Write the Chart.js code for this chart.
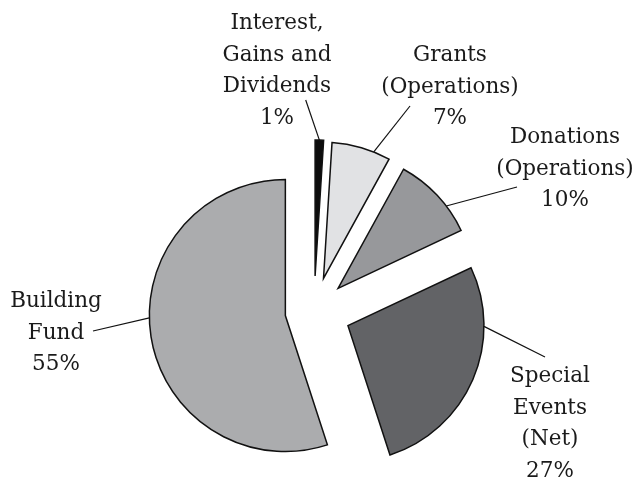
<!DOCTYPE html>
<html>
<head>
<meta charset="utf-8">
<script src="https://cdn.jsdelivr.net/npm/chart.js@4/dist/chart.umd.min.js"></script>
<style>
  html, body { margin: 0; padding: 0; background: #fff; }
  #wrap { width: 637px; height: 486px; position: relative; }
</style>
</head>
<body>
<div id="wrap"><canvas id="pieChart"></canvas></div>
<script>
// Revenue split, clockwise from 12 o'clock
const categories = [
  ['Interest,', 'Gains and', 'Dividends'],
  ['Grants', '(Operations)'],
  ['Donations', '(Operations)'],
  ['Special', 'Events', '(Net)'],
  ['Building', 'Fund']
];
const shares = [1, 7, 10, 27, 55];

// styling / layout (not data)
const sliceColors = ['#0d0d0d', '#e1e2e4', '#97989b', '#626366', '#abacae'];
const explode = [35, 34, 33, 37, 29];           // px each slice is pulled out
const leaderAngle = [1.8, 21.7, 52.7, 90.3, 269]; // deg clockwise from top, where leader meets arc
const leaderEnd = [[305.7, 100], [410, 106], [517, 187], [545, 357], [93, 331]];
const labelAnchor = [[277, 29], [450, 61], [565, 143], [550, 382], [56, 307]]; // centre x, first baseline
const lineHeight = 31.7;
const labelFont = '21.5px "DejaVu Serif"';

// pull slices out along their bisector, keeping the radius
const explodePlugin = {
  id: 'explodeSlices',
  afterDatasetsUpdate(chart) {
    const meta = chart.getDatasetMeta(0);
    meta.data.forEach((arc, i) => {
      const mid = (arc.startAngle + arc.endAngle) / 2;
      arc.x += Math.cos(mid) * explode[i];
      arc.y += Math.sin(mid) * explode[i];
    });
  }
};

// outside labels with leader lines
const labelPlugin = {
  id: 'outsideLabels',
  afterDatasetsDraw(chart) {
    const ctx = chart.ctx;
    const meta = chart.getDatasetMeta(0);
    ctx.save();
    meta.data.forEach((arc, i) => {
      const a = leaderAngle[i] * Math.PI / 180;
      const sx = arc.x + Math.sin(a) * arc.outerRadius;
      const sy = arc.y - Math.cos(a) * arc.outerRadius;
      ctx.beginPath();
      ctx.moveTo(sx, sy);
      ctx.lineTo(leaderEnd[i][0], leaderEnd[i][1]);
      ctx.strokeStyle = '#111';
      ctx.lineWidth = 1.2;
      ctx.stroke();

      const lines = categories[i].concat([shares[i] + '%']);
      ctx.font = labelFont;
      ctx.fillStyle = '#1a1a1a';
      ctx.textAlign = 'center';
      ctx.textBaseline = 'alphabetic';
      lines.forEach((t, j) => {
        ctx.fillText(t, labelAnchor[i][0], labelAnchor[i][1] + j * lineHeight);
      });
    });
    ctx.restore();
  }
};

const ctx = document.getElementById('pieChart').getContext('2d');
new Chart(ctx, {
  type: 'pie',
  data: {
    labels: categories,
    datasets: [{
      data: shares,
      backgroundColor: sliceColors,
      borderColor: '#111',
      borderWidth: 1.5,
      borderJoinStyle: 'miter'
    }]
  },
  options: {
    responsive: true,
    maintainAspectRatio: false,
    animation: false,
    radius: 136,
    layout: { padding: { top: 136, bottom: 0, left: 0, right: 9 } },
    plugins: {
      legend: { display: false },
      tooltip: { enabled: false }
    }
  },
  plugins: [explodePlugin, labelPlugin]
});
</script>
</body>
</html>
